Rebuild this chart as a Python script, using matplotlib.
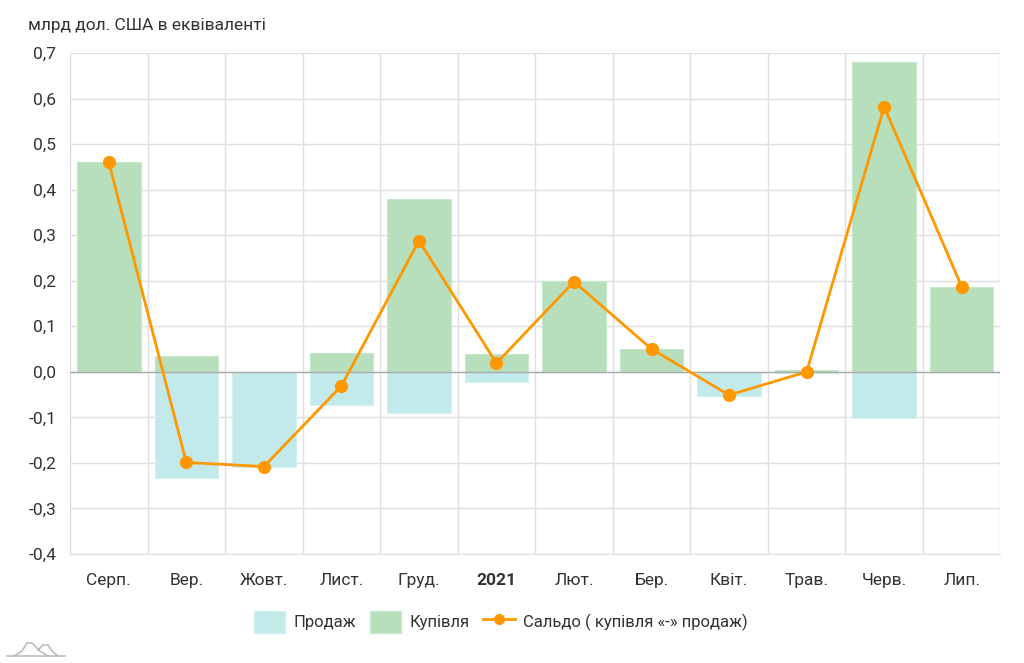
import matplotlib
matplotlib.use("Agg")
import matplotlib.pyplot as plt
from matplotlib.patches import Patch
from matplotlib.lines import Line2D
import numpy as np

plt.rcParams['font.family'] = ['Roboto', 'DejaVu Sans']

months = ['Серп.', 'Вер.', 'Жовт.', 'Лист.', 'Груд.', '2021', 'Лют.', 'Бер.',
          'Квіт.', 'Трав.', 'Черв.', 'Лип.']
purchase = [0.46, 0.034, 0.0, 0.041, 0.38, 0.040, 0.20, 0.05, 0.0, 0.003, 0.68, 0.187]
sales = [0.0, -0.233, -0.21, -0.072, -0.091, -0.022, 0.0, 0.0, -0.052, -0.003, -0.101, 0.0]
saldo = [0.46, -0.199, -0.208, -0.031, 0.288, 0.019, 0.198, 0.05, -0.051, 0.0, 0.582, 0.187]

green = '#b7dfbb'
cyan = '#c2eaea'
orange = '#ff9800'
text_color = '#333333'

fig = plt.figure(figsize=(10.24, 6.63), dpi=100)
ax = fig.add_axes([0.0684, 0.1644, 0.9086, 0.7556])

x = np.arange(len(months))
width = 0.82
ax.bar(x, sales, width, color=cyan, edgecolor='#d4f1f1', linewidth=0.8, zorder=2)
ax.bar(x, purchase, width, color=green, edgecolor='#c8e8cb', linewidth=0.8, zorder=2)
ax.axhline(0, color='#aaaaaa', linewidth=1, zorder=3)
ax.plot(x, saldo, color=orange, linewidth=2, marker='o', markersize=8.5, zorder=4)

ax.set_xlim(-0.5, len(months) - 0.5)
ax.set_ylim(-0.4, 0.7)
yt = np.round(np.arange(-0.4, 0.71, 0.1), 1)
ax.set_yticks(yt)
ax.set_yticklabels(['{:.1f}'.format(abs(v) if v == 0 else v).replace('.', ',') for v in yt])
ax.set_xticks(x)
ax.set_xticklabels(months)
ax.set_xticks(np.arange(-0.5, len(months), 1), minor=True)
ax.grid(True, which='minor', axis='x', color='#e0e0e0', linewidth=1, zorder=0)
ax.grid(True, which='major', axis='y', color='#e0e0e0', linewidth=1, zorder=0)
ax.tick_params(axis='both', which='both', length=0, labelsize=12.5, colors=text_color)
ax.tick_params(axis='x', pad=14)
ax.tick_params(axis='y', pad=10)
for lbl in ax.get_xticklabels():
    if lbl.get_text() == '2021':
        lbl.set_fontweight('bold')
for s in ['top', 'right']:
    ax.spines[s].set_visible(False)
ax.spines['left'].set_color('#e0e0e0')
ax.spines['bottom'].set_color('#e0e0e0')

fig.text(0.027, 0.962, 'млрд дол. США в еквіваленті', fontsize=12.5, color=text_color,
         va='center', ha='left')

handles = [Patch(facecolor=cyan, edgecolor='#d4f1f1'),
           Patch(facecolor=green, edgecolor='#c8e8cb'),
           Line2D([0], [0], color=orange, linewidth=2, marker='o', markersize=7)]
labels = ['Продаж', 'Купівля', 'Сальдо ( купівля «-» продаж)']
fig.legend(handles, labels, loc='center', bbox_to_anchor=(0.489, 0.062), ncol=3,
           frameon=False, fontsize=12, handlelength=1.9, handleheight=1.6,
           handletextpad=0.5, columnspacing=0.8, labelcolor=text_color)

# small logo at bottom left
def logo_line(px, py):
    fig.add_artist(Line2D(np.array(px) / 1024, 1 - np.array(py) / 663,
                          color='#bdbdbd', linewidth=1.2))

logo_line([7, 65], [656, 656])
logo_line([14, 22, 27, 32, 40, 48], [656, 651, 643, 643, 651, 656])
logo_line([38, 43, 48, 52, 58], [650, 645, 645, 651, 656])

fig.savefig('out.png', dpi=100)
